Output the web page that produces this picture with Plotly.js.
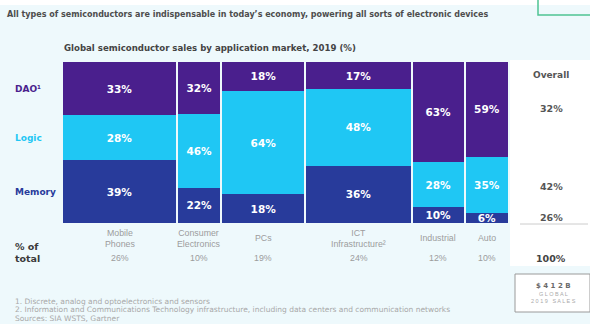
<!DOCTYPE html>
<html>
<head>
<meta charset="utf-8">
<script src="https://cdn.plot.ly/plotly-3.0.1.min.js"></script>
<style>
html,body{margin:0;padding:0;background:#eef9fc;}#chart{width:590px;height:324px;}
#chart .annotation[data-index="0"] text { font-stretch: condensed; }
</style>
</head>
<body>
<div id="chart"></div>
<script>
// ---- data ----
const categories = ["Mobile<br>Phones", "Consumer<br>Electronics", "PCs", "ICT<br>Infrastructure²", "Industrial", "Auto"];
const shareOfTotal = [26, 10, 19, 24, 12, 10];
const memoryValues = [39, 22, 18, 36, 10, 6];
const logicValues  = [28, 46, 64, 48, 28, 35];
const daoValues    = [33, 32, 18, 17, 63, 59];
const seriesNames  = ["Memory", "Logic", "DAO¹"];
const overallValues = [26, 42, 32]; // Memory, Logic, DAO
const overallTotal = "100%";
const globalSales = "$ 4 1 2 B";

// ---- styling / layout ----
const colors = { Memory: "#283b9b", Logic: "#1fc7f4", DAO: "#4a1f8d" };
const W = 590, H = 324, L = 62, R = 81, T = 62, B = 101;
const plotW = W - L - R, plotH = H - T - B;
const px = p => (p - L) / plotW;
const py = p => (H - B - p) / plotH;

// Marimekko positions from shares
const centers = [];
let acc = 0;
shareOfTotal.forEach(s => { centers.push(acc + s / 2); acc += s; });
const totalWidth = acc;
const widths = shareOfTotal.map(s => s - 0.45);

function barTrace(vals, name, color) {
  return {
    type: "bar", x: centers, y: vals, width: widths, name: name,
    marker: { color: color, line: { width: 0 } },
    text: vals.map(v => v + "%"), textposition: "inside", insidetextanchor: "middle",
    textangle: 0, constraintext: "none", cliponaxis: false,
    textfont: { family: "DejaVu Sans", size: 10.5, color: "#ffffff", weight: "bold" },
    hoverinfo: "skip"
  };
}
const data = [
  barTrace(memoryValues, seriesNames[0], colors.Memory),
  barTrace(logicValues, seriesNames[1], colors.Logic),
  barTrace(daoValues, seriesNames[2], colors.DAO)
];

const ann = [];
const gray = "#9c9c9c";
// title (index 0) and subtitle
const titleLeft = 5, titleWidth = 482, titleSize0 = 11;
ann.push({ xref: "paper", yref: "paper", x: px(titleLeft), y: py(14), xanchor: "left", yanchor: "middle", showarrow: false,
  text: "All types of semiconductors are indispensable in today’s economy, powering all sorts of electronic devices",
  font: { family: "Liberation Sans Narrow, DejaVu Sans Condensed, DejaVu Sans", size: titleSize0, color: "#4d4d4d", weight: "bold" } });
ann.push({ xref: "paper", yref: "paper", x: px(62), y: py(48), xanchor: "left", yanchor: "middle", showarrow: false,
  text: "Global semiconductor sales by application market, 2019 (%)",
  font: { family: "DejaVu Sans", size: 8.6, color: "#444444", weight: "bold" } });
// row labels, aligned with first column segments
const firstCol = [memoryValues[0], logicValues[0], daoValues[0]];
const firstSum = firstCol.reduce((a, b) => a + b, 0);
const rowColors = [colors.Memory, colors.Logic, colors.DAO];
let c0 = 0;
firstCol.forEach((v, i) => {
  const mid = (c0 + v / 2) / firstSum * 100; c0 += v;
  ann.push({ xref: "paper", yref: "y", x: px(13), y: mid, xanchor: "left", yanchor: "middle", showarrow: false,
    text: seriesNames[i], font: { family: "DejaVu Sans", size: 9, color: rowColors[i], weight: "bold" } });
});
// categories and shares
categories.forEach((c, i) => {
  ann.push({ xref: "x", yref: "paper", x: centers[i], y: py(238), xanchor: "center", yanchor: "middle", showarrow: false,
    text: c, font: { family: "Liberation Sans", size: 8.8, color: gray } });
  ann.push({ xref: "x", yref: "paper", x: centers[i], y: py(258), xanchor: "center", yanchor: "middle", showarrow: false,
    text: shareOfTotal[i] + "%", font: { family: "Liberation Sans", size: 8.8, color: gray } });
});
ann.push({ xref: "paper", yref: "paper", x: px(13), y: py(252), xanchor: "left", yanchor: "middle", showarrow: false,
  text: "% of<br>total", align: "left", font: { family: "DejaVu Sans", size: 9.5, color: "#3a3a3a", weight: "bold" } });
// overall column
const oc = 551;
ann.push({ xref: "paper", yref: "paper", x: px(oc), y: py(75), xanchor: "center", yanchor: "middle", showarrow: false,
  text: "Overall", font: { family: "DejaVu Sans", size: 9, color: "#555555", weight: "bold" } });
const overallY = [217, 186, 108];
overallValues.forEach((v, i) => {
  ann.push({ xref: "paper", yref: "paper", x: px(oc), y: py(overallY[i]), xanchor: "center", yanchor: "middle", showarrow: false,
    text: v + "%", font: { family: "DejaVu Sans", size: 9.5, color: "#555555", weight: "bold" } });
});
ann.push({ xref: "paper", yref: "paper", x: px(oc), y: py(258), xanchor: "center", yanchor: "middle", showarrow: false,
  text: overallTotal, font: { family: "DejaVu Sans", size: 9.5, color: "#444444", weight: "bold" } });
ann.push({ xref: "paper", yref: "paper", x: px(553), y: py(286), xanchor: "center", yanchor: "middle", showarrow: false,
  text: globalSales, font: { family: "DejaVu Sans", size: 7, color: "#6a6a6a", weight: "bold" } });
ann.push({ xref: "paper", yref: "paper", x: px(553), y: py(293.5), xanchor: "center", yanchor: "middle", showarrow: false,
  text: "G L O B A L", font: { family: "Liberation Sans", size: 5.5, color: "#aaaaaa" } });
ann.push({ xref: "paper", yref: "paper", x: px(553), y: py(301), xanchor: "center", yanchor: "middle", showarrow: false,
  text: "2 0 1 9   S A L E S", font: { family: "Liberation Sans", size: 5.5, color: "#aaaaaa" } });
// footnotes
const notes = ["1. Discrete, analog and optoelectronics and sensors",
  "2. Information and Communications Technology infrastructure, including data centers and communication networks",
  "Sources: SIA WSTS, Gartner"];
const noteY = [301, 309.5, 318];
notes.forEach((n, i) => {
  ann.push({ xref: "paper", yref: "paper", x: px(13), y: py(noteY[i]), xanchor: "left", yanchor: "middle", showarrow: false,
    text: n, font: { family: "DejaVu Sans", size: 7.5, color: "#a8a8a8" } });
});

const shapes = [
  { type: "rect", xref: "paper", yref: "paper", x0: px(-5), x1: px(600), y0: py(-5), y1: py(5), fillcolor: "#ffffff", line: { width: 0 }, layer: "below" },
  { type: "rect", xref: "paper", yref: "paper", x0: px(510), x1: px(600), y0: py(60), y1: py(266), fillcolor: "#ffffff", line: { width: 0 }, layer: "below" },
  { type: "line", xref: "paper", yref: "paper", x0: px(520), x1: px(588), y0: py(224), y1: py(224), line: { color: "#cccccc", width: 1 } },
  { type: "rect", xref: "paper", yref: "paper", x0: px(515), x1: px(590), y0: py(274), y1: py(312), fillcolor: "#ffffff", line: { color: "#9a9a9a", width: 1 } },
  { type: "rect", xref: "paper", yref: "paper", x0: px(538), x1: px(600), y0: py(-5), y1: py(15), fillcolor: "rgba(0,0,0,0)", line: { color: "#4fc393", width: 1.5 } }
];

const layout = {
  width: W, height: H, margin: { l: L, r: R, t: T, b: B, pad: 0 },
  paper_bgcolor: "#eef9fc", plot_bgcolor: "rgba(0,0,0,0)",
  barmode: "stack", barnorm: "percent", bargap: 0, showlegend: false,
  uniformtext: { minsize: 10.5, mode: "show" },
  xaxis: { range: [0, totalWidth], visible: false, fixedrange: true },
  yaxis: { range: [0, 100], visible: false, fixedrange: true },
  annotations: ann, shapes: shapes
};
Plotly.newPlot("chart", data, layout, { staticPlot: true, displayModeBar: false }).then(gd => {
  // size the title so it spans the same width as in the reference
  const t = document.querySelector('.annotation[data-index="0"] text.annotation-text');
  if (t) {
    const w = t.getBBox().width;
    if (w > 0) {
      const s = Math.min(13, titleSize0 * titleWidth / w);
      return Plotly.relayout(gd, { "annotations[0].font.size": s });
    }
  }
});
</script>
</body>
</html>
